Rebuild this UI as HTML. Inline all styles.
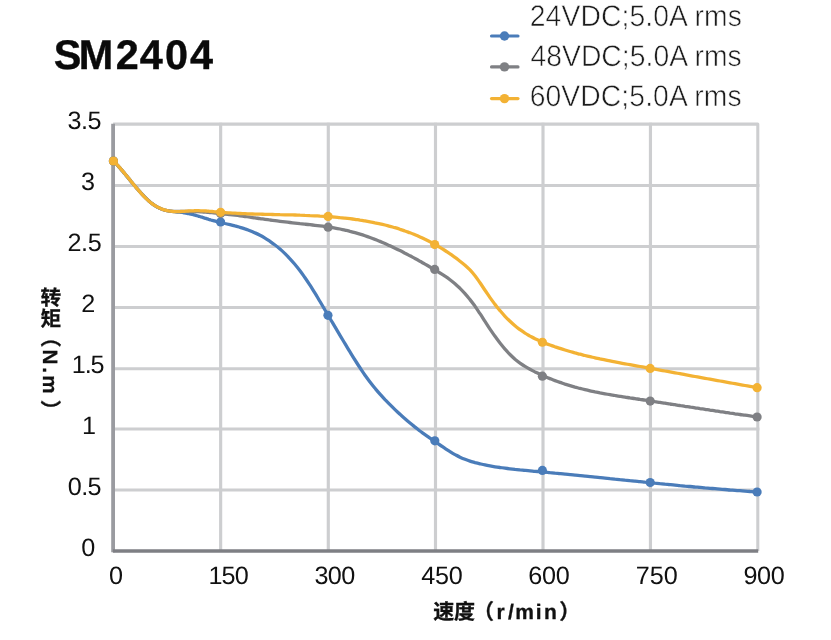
<!DOCTYPE html>
<html lang="zh-CN">
<head>
<meta charset="utf-8">
<title>SM2404</title>
<style>
html,body{margin:0;padding:0;background:#fff;}
body{width:831px;height:640px;position:relative;overflow:hidden;text-rendering:geometricPrecision;font-family:"Liberation Sans","Noto Sans CJK SC",sans-serif;}
.t{position:absolute;white-space:nowrap;line-height:1;margin:0;padding:0;}

.x2{left:529.71px;top:1px;font-size:28.3px;color:#1c1c1c;letter-spacing:0.11px;-webkit-text-stroke:0.55px #fff;transform-origin:0 0;transform:scale(1,1.05);}
.x3{left:530.43px;top:41px;font-size:28.3px;color:#1c1c1c;letter-spacing:0.04px;-webkit-text-stroke:0.55px #fff;transform-origin:0 0;transform:scale(1,1.05);}
.x4{left:529.69px;top:81px;font-size:28.3px;color:#1c1c1c;letter-spacing:0.09px;-webkit-text-stroke:0.55px #fff;transform-origin:0 0;transform:scale(1,1.05);}
.x5{left:67.58px;top:109px;font-size:25.2px;color:#111;letter-spacing:-0.57px;}
.x6{left:80.95px;top:170px;font-size:25.2px;color:#111;}
.x7{left:67.42px;top:231px;font-size:25.2px;color:#111;letter-spacing:-0.39px;}
.x8{left:81.17px;top:292px;font-size:25.2px;color:#111;}
.x9{left:71.7px;top:353px;font-size:25.2px;color:#111;letter-spacing:-1.04px;}
.x10{left:82.02px;top:414px;font-size:25.2px;color:#111;}
.x11{left:67.72px;top:475px;font-size:25.2px;color:#111;letter-spacing:-0.55px;}
.x12{left:81.17px;top:536px;font-size:25.2px;color:#111;}
.x13{left:108.95px;top:564px;font-size:25.2px;color:#111;}
.x14{left:208.39px;top:564px;font-size:25.2px;color:#111;letter-spacing:-0.85px;}
.x15{left:314.39px;top:564px;font-size:25.2px;color:#111;letter-spacing:-0.52px;}
.x16{left:421.35px;top:564px;font-size:25.2px;color:#111;letter-spacing:-0.26px;}
.x17{left:528.32px;top:564px;font-size:25.2px;color:#111;letter-spacing:-0.24px;}
.x18{left:635.77px;top:564px;font-size:25.2px;color:#111;letter-spacing:-0.0px;}
.x19{left:743.54px;top:564px;font-size:25.2px;color:#111;letter-spacing:-0.43px;}
</style>
</head>
<body>
<svg width="831" height="640" viewBox="0 0 831 640" style="position:absolute;left:0;top:0">
<g stroke="#cdced0" fill="none">
<line x1="113.10" y1="185.40" x2="759.38" y2="185.40" stroke-width="2.95"/>
<line x1="113.10" y1="246.40" x2="759.38" y2="246.40" stroke-width="2.95"/>
<line x1="113.10" y1="307.40" x2="759.38" y2="307.40" stroke-width="2.95"/>
<line x1="113.10" y1="368.70" x2="759.38" y2="368.70" stroke-width="2.95"/>
<line x1="113.10" y1="428.90" x2="759.38" y2="428.90" stroke-width="2.95"/>
<line x1="113.10" y1="490.00" x2="759.38" y2="490.00" stroke-width="2.95"/>
<line x1="220.65" y1="122.83" x2="220.65" y2="551.00" stroke-width="3.15"/>
<line x1="328.30" y1="122.83" x2="328.30" y2="551.00" stroke-width="3.15"/>
<line x1="435.50" y1="122.83" x2="435.50" y2="551.00" stroke-width="3.15"/>
<line x1="543.00" y1="122.83" x2="543.00" y2="551.00" stroke-width="3.15"/>
<line x1="650.45" y1="122.83" x2="650.45" y2="551.00" stroke-width="3.15"/>
<path d="M113.10 124.10 H757.80 V551.00" stroke-width="3.05" stroke-linejoin="round"/>
</g>
<line x1="113.10" y1="123.80" x2="113.10" y2="552.20" stroke="#9a9ba0" stroke-width="3.8"/>
<line x1="112.90" y1="551.00" x2="758.20" y2="551.00" stroke="#7e7f84" stroke-width="3.6"/>
<path d="M113.4 161.0 C113.8 161.4 115.1 162.7 115.9 163.6 C116.7 164.4 117.6 165.4 118.4 166.3 C119.2 167.2 120.1 168.2 120.9 169.1 C121.7 170.1 122.6 171.1 123.4 172.1 C124.2 173.1 125.1 174.1 125.9 175.1 C126.7 176.1 127.6 177.1 128.4 178.1 C129.2 179.1 130.1 180.1 130.9 181.2 C131.7 182.2 132.6 183.2 133.4 184.2 C134.2 185.2 135.1 186.2 135.9 187.2 C136.7 188.2 137.6 189.1 138.4 190.1 C139.2 191.1 140.1 192.0 140.9 192.9 C141.7 193.8 142.6 194.7 143.4 195.6 C144.2 196.5 145.1 197.3 145.9 198.2 C146.7 199.0 147.6 199.8 148.4 200.5 C149.2 201.3 150.1 202.0 150.9 202.7 C151.7 203.3 152.6 204.0 153.4 204.6 C154.2 205.2 155.1 205.7 155.9 206.2 C156.7 206.8 157.6 207.2 158.4 207.6 C159.2 208.1 160.1 208.5 160.9 208.8 C161.7 209.1 162.6 209.4 163.4 209.7 C164.2 210.0 165.1 210.2 165.9 210.4 C166.7 210.6 167.6 210.8 168.4 210.9 C169.2 211.0 170.1 211.2 170.9 211.3 C171.7 211.4 172.6 211.5 173.4 211.6 C174.2 211.7 175.1 211.7 175.9 211.8 C176.7 211.9 177.6 212.0 178.4 212.0 C179.2 212.1 180.1 212.2 180.9 212.3 C181.7 212.4 182.6 212.5 183.4 212.6 C184.2 212.8 185.1 212.9 185.9 213.1 C186.7 213.2 187.6 213.4 188.4 213.5 C189.2 213.7 190.1 213.9 190.9 214.1 C191.7 214.3 192.6 214.5 193.4 214.7 C194.2 214.9 195.1 215.1 195.9 215.4 C196.7 215.6 197.6 215.9 198.4 216.1 C199.2 216.4 200.1 216.6 200.9 216.9 C201.7 217.1 202.6 217.4 203.4 217.7 C204.2 217.9 205.1 218.2 205.9 218.4 C206.7 218.7 207.6 219.0 208.4 219.2 C209.2 219.5 210.1 219.7 210.9 220.0 C211.7 220.2 212.6 220.4 213.4 220.6 C214.2 220.9 215.1 221.1 215.9 221.3 C216.7 221.5 217.6 221.7 218.4 221.9 C219.2 222.1 220.1 222.3 220.9 222.5 C221.7 222.7 222.7 222.9 223.4 223.1 C224.1 223.3 223.9 223.2 225.0 223.5 C226.1 223.7 228.3 224.2 230.0 224.6 C231.7 225.0 233.3 225.4 235.0 225.9 C236.7 226.3 238.3 226.8 240.0 227.3 C241.7 227.8 243.3 228.3 245.0 228.9 C246.7 229.4 248.3 230.1 250.0 230.7 C251.7 231.4 253.3 232.1 255.0 232.9 C256.7 233.6 258.3 234.4 260.0 235.3 C261.7 236.2 263.3 237.1 265.0 238.1 C266.7 239.1 268.3 240.2 270.0 241.3 C271.7 242.5 273.3 243.7 275.0 245.0 C276.7 246.2 278.3 247.6 280.0 249.1 C281.7 250.5 283.3 252.0 285.0 253.6 C286.7 255.3 288.3 257.0 290.0 258.8 C291.7 260.6 293.3 262.5 295.0 264.5 C296.7 266.5 298.3 268.5 300.0 270.7 C301.7 272.9 303.3 275.3 305.0 277.7 C306.7 280.1 308.3 282.6 310.0 285.2 C311.7 287.8 313.3 290.5 315.0 293.2 C316.7 295.9 318.3 298.7 320.0 301.5 C321.7 304.3 323.3 307.2 325.0 310.0 C326.7 312.9 328.3 315.7 330.0 318.5 C331.7 321.3 333.3 324.1 335.0 326.9 C336.7 329.7 338.3 332.5 340.0 335.3 C341.7 338.1 343.3 340.9 345.0 343.7 C346.7 346.4 348.3 349.2 350.0 351.9 C351.7 354.7 353.3 357.4 355.0 360.0 C356.7 362.7 358.3 365.3 360.0 367.8 C361.7 370.3 363.3 372.8 365.0 375.2 C366.7 377.5 368.3 379.8 370.0 382.0 C371.7 384.2 373.3 386.3 375.0 388.3 C376.7 390.3 378.3 392.2 380.0 394.1 C381.7 396.0 383.3 397.8 385.0 399.6 C386.7 401.3 388.3 403.0 390.0 404.7 C391.7 406.4 393.3 408.0 395.0 409.6 C396.7 411.2 398.3 412.7 400.0 414.3 C401.7 415.8 403.3 417.3 405.0 418.7 C406.7 420.2 408.3 421.6 410.0 423.0 C411.7 424.4 413.3 425.8 415.0 427.1 C416.7 428.4 418.3 429.7 420.0 431.0 C421.7 432.2 423.3 433.4 425.0 434.6 C426.7 435.8 428.3 437.0 430.0 438.2 C431.7 439.3 433.3 440.5 435.0 441.6 C436.7 442.8 438.3 443.9 440.0 445.0 C441.7 446.1 443.3 447.3 445.0 448.4 C446.7 449.5 448.3 450.6 450.0 451.6 C451.7 452.7 453.3 453.7 455.0 454.6 C456.7 455.5 458.3 456.4 460.0 457.2 C461.7 458.0 463.3 458.7 465.0 459.3 C466.7 460.0 468.3 460.6 470.0 461.1 C471.7 461.7 473.3 462.1 475.0 462.6 C476.7 463.0 478.3 463.4 480.0 463.8 C481.7 464.2 483.3 464.6 485.0 464.9 C486.7 465.3 488.3 465.6 490.0 465.9 C491.7 466.2 493.3 466.5 495.0 466.8 C496.7 467.1 498.3 467.3 500.0 467.5 C501.7 467.8 503.3 468.0 505.0 468.2 C506.7 468.4 508.3 468.6 510.0 468.8 C511.7 469.0 513.3 469.2 515.0 469.4 C516.7 469.5 518.3 469.7 520.0 469.9 C521.7 470.0 523.3 470.2 525.0 470.3 C526.7 470.5 528.3 470.7 530.0 470.8 C531.7 471.0 533.3 471.1 535.0 471.3 C536.7 471.4 538.3 471.6 540.0 471.7 C541.7 471.9 543.3 472.0 545.0 472.2 C546.7 472.4 548.3 472.5 550.0 472.7 C551.7 472.8 553.3 473.0 555.0 473.2 C556.7 473.3 558.3 473.5 560.0 473.6 C561.7 473.8 563.3 474.0 565.0 474.1 C566.7 474.3 568.3 474.5 570.0 474.6 C571.7 474.8 573.3 475.0 575.0 475.1 C576.7 475.3 578.3 475.5 580.0 475.6 C581.7 475.8 583.3 476.0 585.0 476.1 C586.7 476.3 588.3 476.5 590.0 476.6 C591.7 476.8 593.3 477.0 595.0 477.1 C596.7 477.3 598.3 477.5 600.0 477.6 C601.7 477.8 603.3 478.0 605.0 478.1 C606.7 478.3 608.3 478.5 610.0 478.7 C611.7 478.8 613.3 479.0 615.0 479.2 C616.7 479.3 618.3 479.5 620.0 479.7 C621.7 479.8 623.3 480.0 625.0 480.2 C626.7 480.3 628.3 480.5 630.0 480.7 C631.7 480.8 633.3 481.0 635.0 481.2 C636.7 481.4 638.3 481.5 640.0 481.7 C641.7 481.9 643.3 482.0 645.0 482.2 C646.7 482.3 648.3 482.5 650.0 482.7 C651.7 482.8 653.3 483.0 655.0 483.2 C656.7 483.3 658.3 483.5 660.0 483.7 C661.7 483.8 663.3 484.0 665.0 484.2 C666.7 484.3 668.3 484.5 670.0 484.6 C671.7 484.8 673.3 485.0 675.0 485.1 C676.7 485.3 678.3 485.4 680.0 485.6 C681.7 485.7 683.3 485.9 685.0 486.1 C686.7 486.2 688.3 486.4 690.0 486.5 C691.7 486.7 693.3 486.8 695.0 487.0 C696.7 487.1 698.3 487.3 700.0 487.4 C701.7 487.6 703.3 487.7 705.0 487.9 C706.7 488.0 708.3 488.1 710.0 488.3 C711.7 488.4 713.3 488.6 715.0 488.7 C716.7 488.9 718.3 489.0 720.0 489.1 C721.7 489.3 723.3 489.4 725.0 489.5 C726.7 489.7 728.3 489.8 730.0 490.0 C731.7 490.1 733.3 490.2 735.0 490.3 C736.7 490.5 738.3 490.6 740.0 490.7 C741.7 490.9 743.3 491.0 745.0 491.1 C746.7 491.2 748.3 491.3 750.0 491.5 C751.7 491.6 753.8 491.7 755.0 491.8 C756.2 491.9 756.8 491.9 757.1 492.0" fill="none" stroke="#4a7cb9" stroke-width="3.3" stroke-linecap="round" stroke-linejoin="round"/>
<circle cx="113.40" cy="161.00" r="4.6" fill="#4a7cb9"/>
<circle cx="220.60" cy="222.00" r="4.6" fill="#4a7cb9"/>
<circle cx="327.95" cy="315.30" r="4.6" fill="#4a7cb9"/>
<circle cx="434.80" cy="440.80" r="4.6" fill="#4a7cb9"/>
<circle cx="542.40" cy="470.40" r="4.6" fill="#4a7cb9"/>
<circle cx="650.20" cy="482.50" r="4.6" fill="#4a7cb9"/>
<circle cx="757.10" cy="492.00" r="4.6" fill="#4a7cb9"/>
<path d="M113.4 161.0 C113.8 161.4 115.1 162.7 115.9 163.5 C116.7 164.4 117.6 165.3 118.4 166.2 C119.2 167.2 120.1 168.1 120.9 169.1 C121.7 170.0 122.6 171.0 123.4 172.0 C124.2 173.0 125.1 174.0 125.9 175.0 C126.7 176.0 127.6 177.1 128.4 178.1 C129.2 179.1 130.1 180.1 130.9 181.2 C131.7 182.2 132.6 183.2 133.4 184.2 C134.2 185.2 135.1 186.2 135.9 187.2 C136.7 188.2 137.6 189.2 138.4 190.2 C139.2 191.1 140.1 192.1 140.9 193.0 C141.7 193.9 142.6 194.8 143.4 195.7 C144.2 196.6 145.1 197.4 145.9 198.2 C146.7 199.0 147.6 199.8 148.4 200.6 C149.2 201.3 150.1 202.0 150.9 202.7 C151.7 203.3 152.6 204.0 153.4 204.6 C154.2 205.1 155.1 205.7 155.9 206.2 C156.7 206.7 157.6 207.2 158.4 207.6 C159.2 208.0 160.1 208.4 160.9 208.8 C161.7 209.1 162.6 209.4 163.4 209.7 C164.2 210.0 165.1 210.2 165.9 210.4 C166.7 210.6 167.6 210.8 168.4 210.9 C169.2 211.1 170.1 211.2 170.9 211.2 C171.7 211.3 172.6 211.4 173.4 211.4 C174.2 211.5 175.1 211.5 175.9 211.5 C176.7 211.5 177.6 211.5 178.4 211.5 C179.2 211.5 180.1 211.5 180.9 211.5 C181.7 211.5 182.6 211.5 183.4 211.5 C184.2 211.5 185.1 211.5 185.9 211.5 C186.7 211.5 187.6 211.5 188.4 211.5 C189.2 211.5 190.1 211.5 190.9 211.5 C191.7 211.5 192.6 211.6 193.4 211.6 C194.2 211.6 195.1 211.6 195.9 211.6 C196.7 211.7 197.6 211.7 198.4 211.7 C199.2 211.8 200.1 211.8 200.9 211.8 C201.7 211.9 202.6 211.9 203.4 212.0 C204.2 212.0 205.1 212.1 205.9 212.1 C206.7 212.2 207.6 212.3 208.4 212.3 C209.2 212.4 210.1 212.5 210.9 212.5 C211.7 212.6 212.6 212.7 213.4 212.8 C214.2 212.8 215.1 212.9 215.9 213.0 C216.7 213.1 217.6 213.2 218.4 213.3 C219.2 213.4 220.1 213.4 220.9 213.5 C221.7 213.6 222.7 213.7 223.4 213.8 C224.1 213.9 223.9 213.9 225.0 214.0 C226.1 214.1 228.3 214.4 230.0 214.6 C231.7 214.8 233.3 215.0 235.0 215.2 C236.7 215.4 238.3 215.6 240.0 215.9 C241.7 216.1 243.3 216.3 245.0 216.5 C246.7 216.8 248.3 217.0 250.0 217.2 C251.7 217.4 253.3 217.7 255.0 217.9 C256.7 218.1 258.3 218.4 260.0 218.6 C261.7 218.8 263.3 219.1 265.0 219.3 C266.7 219.5 268.3 219.7 270.0 220.0 C271.7 220.2 273.3 220.4 275.0 220.6 C276.7 220.9 278.3 221.1 280.0 221.3 C281.7 221.5 283.3 221.7 285.0 221.9 C286.7 222.1 288.3 222.3 290.0 222.5 C291.7 222.7 293.3 222.9 295.0 223.1 C296.7 223.3 298.3 223.5 300.0 223.7 C301.7 223.8 303.3 224.0 305.0 224.2 C306.7 224.4 308.3 224.6 310.0 224.7 C311.7 224.9 313.3 225.1 315.0 225.3 C316.7 225.5 318.3 225.7 320.0 225.9 C321.7 226.1 323.3 226.3 325.0 226.6 C326.7 226.8 328.3 227.0 330.0 227.3 C331.7 227.6 333.3 227.8 335.0 228.1 C336.7 228.4 338.3 228.7 340.0 229.0 C341.7 229.4 343.3 229.7 345.0 230.1 C346.7 230.5 348.3 230.8 350.0 231.3 C351.7 231.7 353.3 232.1 355.0 232.6 C356.7 233.1 358.3 233.6 360.0 234.1 C361.7 234.6 363.3 235.1 365.0 235.7 C366.7 236.3 368.3 236.9 370.0 237.5 C371.7 238.1 373.3 238.7 375.0 239.4 C376.7 240.0 378.3 240.7 380.0 241.4 C381.7 242.1 383.3 242.8 385.0 243.5 C386.7 244.3 388.3 245.0 390.0 245.8 C391.7 246.6 393.3 247.4 395.0 248.2 C396.7 249.0 398.3 249.8 400.0 250.6 C401.7 251.4 403.3 252.3 405.0 253.2 C406.7 254.0 408.3 254.9 410.0 255.8 C411.7 256.7 413.3 257.6 415.0 258.5 C416.7 259.4 418.3 260.3 420.0 261.3 C421.7 262.2 423.3 263.2 425.0 264.1 C426.7 265.1 428.3 266.0 430.0 267.0 C431.7 268.0 433.3 268.9 435.0 269.9 C436.7 270.9 438.3 271.9 440.0 273.0 C441.7 274.0 443.3 275.0 445.0 276.2 C446.7 277.3 448.3 278.4 450.0 279.7 C451.7 281.0 453.3 282.3 455.0 283.7 C456.7 285.2 458.3 286.7 460.0 288.3 C461.7 290.0 463.3 291.7 465.0 293.6 C466.7 295.5 468.3 297.5 470.0 299.6 C471.7 301.7 473.3 303.9 475.0 306.2 C476.7 308.6 478.3 311.1 480.0 313.6 C481.7 316.1 483.3 318.8 485.0 321.4 C486.7 324.0 488.3 326.6 490.0 329.1 C491.7 331.5 493.3 334.0 495.0 336.3 C496.7 338.6 498.3 340.9 500.0 343.0 C501.7 345.1 503.3 347.2 505.0 349.1 C506.7 351.0 508.3 352.8 510.0 354.5 C511.7 356.2 513.3 357.7 515.0 359.2 C516.7 360.6 518.3 361.9 520.0 363.1 C521.7 364.3 523.3 365.4 525.0 366.4 C526.7 367.4 528.3 368.3 530.0 369.3 C531.7 370.2 533.3 371.0 535.0 371.9 C536.7 372.7 538.3 373.5 540.0 374.3 C541.7 375.1 543.3 375.8 545.0 376.5 C546.7 377.3 548.3 378.0 550.0 378.6 C551.7 379.3 553.3 380.0 555.0 380.6 C556.7 381.2 558.3 381.8 560.0 382.4 C561.7 383.0 563.3 383.5 565.0 384.1 C566.7 384.6 568.3 385.1 570.0 385.6 C571.7 386.1 573.3 386.6 575.0 387.1 C576.7 387.5 578.3 388.0 580.0 388.4 C581.7 388.8 583.3 389.2 585.0 389.6 C586.7 390.0 588.3 390.4 590.0 390.8 C591.7 391.2 593.3 391.5 595.0 391.9 C596.7 392.2 598.3 392.5 600.0 392.9 C601.7 393.2 603.3 393.5 605.0 393.8 C606.7 394.1 608.3 394.4 610.0 394.7 C611.7 395.0 613.3 395.2 615.0 395.5 C616.7 395.8 618.3 396.1 620.0 396.3 C621.7 396.6 623.3 396.9 625.0 397.1 C626.7 397.4 628.3 397.6 630.0 397.9 C631.7 398.1 633.3 398.4 635.0 398.6 C636.7 398.9 638.3 399.1 640.0 399.4 C641.7 399.6 643.3 399.9 645.0 400.1 C646.7 400.4 648.3 400.7 650.0 400.9 C651.7 401.2 653.3 401.4 655.0 401.7 C656.7 401.9 658.3 402.2 660.0 402.4 C661.7 402.7 663.3 402.9 665.0 403.2 C666.7 403.5 668.3 403.7 670.0 404.0 C671.7 404.2 673.3 404.5 675.0 404.7 C676.7 405.0 678.3 405.3 680.0 405.5 C681.7 405.8 683.3 406.0 685.0 406.3 C686.7 406.5 688.3 406.8 690.0 407.0 C691.7 407.3 693.3 407.5 695.0 407.8 C696.7 408.1 698.3 408.3 700.0 408.6 C701.7 408.8 703.3 409.1 705.0 409.3 C706.7 409.6 708.3 409.8 710.0 410.1 C711.7 410.3 713.3 410.6 715.0 410.8 C716.7 411.1 718.3 411.3 720.0 411.6 C721.7 411.8 723.3 412.1 725.0 412.3 C726.7 412.6 728.3 412.8 730.0 413.1 C731.7 413.3 733.3 413.5 735.0 413.8 C736.7 414.0 738.3 414.3 740.0 414.5 C741.7 414.7 743.3 415.0 745.0 415.2 C746.7 415.5 748.3 415.7 750.0 415.9 C751.7 416.2 753.8 416.5 755.0 416.6 C756.2 416.8 756.8 416.9 757.1 416.9" fill="none" stroke="#7f8084" stroke-width="3.3" stroke-linecap="round" stroke-linejoin="round"/>
<circle cx="113.40" cy="161.00" r="4.6" fill="#7f8084"/>
<circle cx="220.60" cy="213.60" r="4.6" fill="#7f8084"/>
<circle cx="328.10" cy="227.20" r="4.6" fill="#7f8084"/>
<circle cx="434.70" cy="269.45" r="4.6" fill="#7f8084"/>
<circle cx="542.40" cy="376.20" r="4.6" fill="#7f8084"/>
<circle cx="650.20" cy="401.10" r="4.6" fill="#7f8084"/>
<circle cx="757.10" cy="417.00" r="4.6" fill="#7f8084"/>
<path d="M113.4 161.0 C113.8 161.4 115.1 162.7 115.9 163.5 C116.7 164.4 117.6 165.3 118.4 166.2 C119.2 167.1 120.1 168.0 120.9 169.0 C121.7 170.0 122.6 171.0 123.4 171.9 C124.2 172.9 125.1 174.0 125.9 175.0 C126.7 176.0 127.6 177.0 128.4 178.0 C129.2 179.1 130.1 180.1 130.9 181.1 C131.7 182.2 132.6 183.2 133.4 184.2 C134.2 185.2 135.1 186.3 135.9 187.3 C136.7 188.3 137.6 189.2 138.4 190.2 C139.2 191.2 140.1 192.1 140.9 193.1 C141.7 194.0 142.6 194.9 143.4 195.8 C144.2 196.6 145.1 197.5 145.9 198.3 C146.7 199.1 147.6 199.9 148.4 200.6 C149.2 201.4 150.1 202.1 150.9 202.7 C151.7 203.4 152.6 204.0 153.4 204.6 C154.2 205.1 155.1 205.7 155.9 206.2 C156.7 206.7 157.6 207.1 158.4 207.5 C159.2 207.9 160.1 208.3 160.9 208.7 C161.7 209.0 162.6 209.3 163.4 209.6 C164.2 209.9 165.1 210.1 165.9 210.3 C166.7 210.5 167.6 210.7 168.4 210.9 C169.2 211.0 170.1 211.1 170.9 211.2 C171.7 211.3 172.6 211.4 173.4 211.5 C174.2 211.5 175.1 211.6 175.9 211.6 C176.7 211.6 177.6 211.6 178.4 211.6 C179.2 211.6 180.1 211.5 180.9 211.5 C181.7 211.5 182.6 211.4 183.4 211.4 C184.2 211.3 185.1 211.3 185.9 211.2 C186.7 211.2 187.6 211.1 188.4 211.0 C189.2 211.0 190.1 210.9 190.9 210.9 C191.7 210.9 192.6 210.8 193.4 210.8 C194.2 210.8 195.1 210.7 195.9 210.7 C196.7 210.7 197.6 210.7 198.4 210.7 C199.2 210.8 200.1 210.8 200.9 210.8 C201.7 210.8 202.6 210.9 203.4 210.9 C204.2 210.9 205.1 211.0 205.9 211.0 C206.7 211.1 207.6 211.2 208.4 211.2 C209.2 211.3 210.1 211.3 210.9 211.4 C211.7 211.5 212.6 211.5 213.4 211.6 C214.2 211.7 215.1 211.8 215.9 211.8 C216.7 211.9 217.6 212.0 218.4 212.1 C219.2 212.1 220.1 212.2 220.9 212.3 C221.7 212.3 222.7 212.4 223.4 212.5 C224.1 212.5 223.9 212.5 225.0 212.6 C226.1 212.7 228.3 212.8 230.0 212.9 C231.7 213.0 233.3 213.1 235.0 213.2 C236.7 213.3 238.3 213.4 240.0 213.5 C241.7 213.6 243.3 213.6 245.0 213.7 C246.7 213.8 248.3 213.8 250.0 213.9 C251.7 214.0 253.3 214.0 255.0 214.1 C256.7 214.1 258.3 214.2 260.0 214.2 C261.7 214.2 263.3 214.3 265.0 214.3 C266.7 214.4 268.3 214.4 270.0 214.4 C271.7 214.5 273.3 214.5 275.0 214.6 C276.7 214.6 278.3 214.6 280.0 214.7 C281.7 214.7 283.3 214.7 285.0 214.8 C286.7 214.8 288.3 214.9 290.0 214.9 C291.7 214.9 293.3 215.0 295.0 215.0 C296.7 215.1 298.3 215.1 300.0 215.2 C301.7 215.2 303.3 215.3 305.0 215.4 C306.7 215.4 308.3 215.5 310.0 215.6 C311.7 215.6 313.3 215.7 315.0 215.8 C316.7 215.9 318.3 216.0 320.0 216.1 C321.7 216.1 323.3 216.2 325.0 216.4 C326.7 216.5 328.3 216.6 330.0 216.7 C331.7 216.8 333.3 217.0 335.0 217.1 C336.7 217.3 338.3 217.4 340.0 217.6 C341.7 217.7 343.3 217.9 345.0 218.1 C346.7 218.3 348.3 218.5 350.0 218.7 C351.7 218.9 353.3 219.1 355.0 219.3 C356.7 219.6 358.3 219.8 360.0 220.1 C361.7 220.3 363.3 220.6 365.0 220.9 C366.7 221.2 368.3 221.5 370.0 221.8 C371.7 222.1 373.3 222.4 375.0 222.8 C376.7 223.1 378.3 223.5 380.0 223.8 C381.7 224.2 383.3 224.6 385.0 225.0 C386.7 225.4 388.3 225.9 390.0 226.3 C391.7 226.8 393.3 227.2 395.0 227.7 C396.7 228.2 398.3 228.7 400.0 229.3 C401.7 229.8 403.3 230.4 405.0 231.0 C406.7 231.5 408.3 232.2 410.0 232.8 C411.7 233.4 413.3 234.1 415.0 234.8 C416.7 235.5 418.3 236.2 420.0 236.9 C421.7 237.7 423.3 238.4 425.0 239.3 C426.7 240.1 428.3 240.9 430.0 241.8 C431.7 242.6 433.3 243.5 435.0 244.5 C436.7 245.4 438.3 246.4 440.0 247.4 C441.7 248.4 443.3 249.4 445.0 250.5 C446.7 251.6 448.3 252.7 450.0 253.8 C451.7 255.0 453.3 256.1 455.0 257.4 C456.7 258.6 458.3 259.9 460.0 261.2 C461.7 262.5 463.3 263.8 465.0 265.2 C466.7 266.7 468.3 268.2 470.0 269.9 C471.7 271.7 473.3 273.6 475.0 275.7 C476.7 277.9 478.3 280.3 480.0 282.7 C481.7 285.2 483.3 287.8 485.0 290.3 C486.7 292.7 488.3 295.2 490.0 297.6 C491.7 299.9 493.3 302.2 495.0 304.4 C496.7 306.5 498.3 308.6 500.0 310.6 C501.7 312.6 503.3 314.5 505.0 316.3 C506.7 318.1 508.3 319.7 510.0 321.3 C511.7 322.9 513.3 324.4 515.0 325.8 C516.7 327.2 518.3 328.4 520.0 329.7 C521.7 330.9 523.3 332.0 525.0 333.1 C526.7 334.1 528.3 335.1 530.0 336.1 C531.7 337.0 533.3 337.9 535.0 338.7 C536.7 339.5 538.3 340.3 540.0 341.0 C541.7 341.8 543.3 342.4 545.0 343.1 C546.7 343.8 548.3 344.4 550.0 345.0 C551.7 345.6 553.3 346.2 555.0 346.8 C556.7 347.3 558.3 347.9 560.0 348.4 C561.7 349.0 563.3 349.5 565.0 350.0 C566.7 350.5 568.3 351.0 570.0 351.5 C571.7 352.0 573.3 352.4 575.0 352.9 C576.7 353.3 578.3 353.8 580.0 354.2 C581.7 354.6 583.3 355.1 585.0 355.5 C586.7 355.9 588.3 356.3 590.0 356.7 C591.7 357.1 593.3 357.4 595.0 357.8 C596.7 358.2 598.3 358.5 600.0 358.9 C601.7 359.2 603.3 359.6 605.0 359.9 C606.7 360.3 608.3 360.6 610.0 360.9 C611.7 361.3 613.3 361.6 615.0 361.9 C616.7 362.2 618.3 362.5 620.0 362.8 C621.7 363.2 623.3 363.5 625.0 363.8 C626.7 364.1 628.3 364.4 630.0 364.7 C631.7 365.0 633.3 365.3 635.0 365.6 C636.7 365.9 638.3 366.2 640.0 366.5 C641.7 366.8 643.3 367.1 645.0 367.4 C646.7 367.7 648.3 368.0 650.0 368.3 C651.7 368.6 653.3 368.9 655.0 369.2 C656.7 369.5 658.3 369.8 660.0 370.1 C661.7 370.4 663.3 370.7 665.0 371.0 C666.7 371.3 668.3 371.6 670.0 371.9 C671.7 372.2 673.3 372.5 675.0 372.8 C676.7 373.1 678.3 373.4 680.0 373.7 C681.7 374.0 683.3 374.4 685.0 374.7 C686.7 375.0 688.3 375.3 690.0 375.6 C691.7 375.9 693.3 376.2 695.0 376.5 C696.7 376.8 698.3 377.1 700.0 377.4 C701.7 377.7 703.3 378.0 705.0 378.3 C706.7 378.6 708.3 378.9 710.0 379.2 C711.7 379.5 713.3 379.8 715.0 380.1 C716.7 380.4 718.3 380.7 720.0 381.0 C721.7 381.3 723.3 381.6 725.0 381.9 C726.7 382.2 728.3 382.5 730.0 382.8 C731.7 383.1 733.3 383.4 735.0 383.7 C736.7 384.0 738.3 384.3 740.0 384.6 C741.7 384.9 743.3 385.2 745.0 385.5 C746.7 385.8 748.3 386.1 750.0 386.4 C751.7 386.7 753.8 387.1 755.0 387.3 C756.2 387.5 756.8 387.6 757.1 387.7" fill="none" stroke="#f3b234" stroke-width="3.3" stroke-linecap="round" stroke-linejoin="round"/>
<circle cx="113.40" cy="161.00" r="4.6" fill="#f3b234"/>
<circle cx="220.60" cy="212.35" r="4.6" fill="#f3b234"/>
<circle cx="328.10" cy="216.45" r="4.6" fill="#f3b234"/>
<circle cx="434.70" cy="244.55" r="4.6" fill="#f3b234"/>
<circle cx="542.40" cy="342.25" r="4.6" fill="#f3b234"/>
<circle cx="650.20" cy="368.40" r="4.6" fill="#f3b234"/>
<circle cx="757.10" cy="387.70" r="4.6" fill="#f3b234"/>
<line x1="491.50" y1="36.05" x2="518.00" y2="36.05" stroke="#4a7cb9" stroke-width="3.1" stroke-linecap="round"/>
<circle cx="504.50" cy="36.05" r="4.7" fill="#4a7cb9"/>
<line x1="491.50" y1="66.90" x2="518.00" y2="66.90" stroke="#7f8084" stroke-width="3.1" stroke-linecap="round"/>
<circle cx="504.50" cy="66.90" r="4.7" fill="#7f8084"/>
<line x1="491.50" y1="98.60" x2="518.00" y2="98.60" stroke="#f3b234" stroke-width="3.1" stroke-linecap="round"/>
<circle cx="504.50" cy="98.60" r="4.7" fill="#f3b234"/>
</svg>
<svg class="t" id="title" width="831" height="640" viewBox="0 0 831 640" style="left:0;top:0"><text x="53.70 78.75 115.70 139.80 165.10 190.00" y="69" font-family="Liberation Sans, sans-serif" font-weight="bold" font-size="41.4" fill="#0a0a0a" stroke="#0a0a0a" stroke-width="0.4">SM2404</text></svg>
<div class="t x2" id="l1">24VDC;5.0A rms</div>
<div class="t x3" id="l2">48VDC;5.0A rms</div>
<div class="t x4" id="l3">60VDC;5.0A rms</div>
<div class="t x5" id="y35">3.5</div>
<div class="t x6" id="y30">3</div>
<div class="t x7" id="y25">2.5</div>
<div class="t x8" id="y20">2</div>
<div class="t x9" id="y15">1.5</div>
<div class="t x10" id="y10">1</div>
<div class="t x11" id="y05">0.5</div>
<div class="t x12" id="y00">0</div>
<div class="t x13" id="x0">0</div>
<div class="t x14" id="x150">150</div>
<div class="t x15" id="x300">300</div>
<div class="t x16" id="x450">450</div>
<div class="t x17" id="x600">600</div>
<div class="t x18" id="x750">750</div>
<div class="t x19" id="x900">900</div>
<svg class="t" id="xt" width="831" height="640" viewBox="0 0 831 640" style="left:0;top:0"><text x="433.30 454.08 472.89 496.49 508.09 515.19 535.69 544.08 559.28" y="619.3" font-family="Liberation Sans, Noto Sans CJK SC, sans-serif" font-weight="bold" font-size="21.0" fill="#111" stroke="#111" stroke-width="0.3">速度（r/min）</text></svg>
<svg class="t" id="yt" width="831" height="640" viewBox="0 0 831 640" style="left:0;top:0"><text x="48.30 48.30 48.30 49.40 49.40 49.40 48.30" y="287.00 307.80 326.31 349.52 367.16 375.20 399.88" style="writing-mode:vertical-rl" font-family="Liberation Sans, Noto Sans CJK SC, sans-serif" font-weight="bold" font-size="20.7" fill="#111" stroke="#111" stroke-width="0.28">转矩（N.m）</text></svg>
</body>
</html>
